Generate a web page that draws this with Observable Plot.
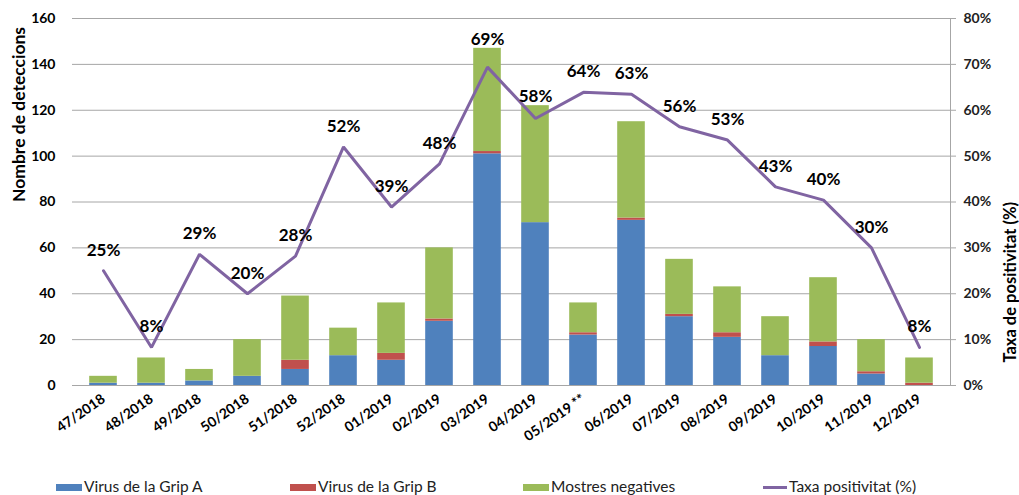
<!DOCTYPE html>
<html>
<head>
<meta charset="utf-8">
<script src="https://cdn.jsdelivr.net/npm/d3@7"></script>
<script src="https://cdn.jsdelivr.net/npm/@observablehq/plot@0.6"></script>
<style>
  html, body { margin: 0; padding: 0; background: #fff; }
  #wrap { width: 1019px; height: 495px; position: relative; font-family: Lato, "Open Sans", sans-serif; }
  #legend { position: absolute; left: 0; top: 476px; width: 1019px; height: 20px; font-size: 15.5px; color: #222; }
  .item { position: absolute; top: 0; height: 20px; line-height: 20px; white-space: nowrap; }
  .sw { display: inline-block; width: 26px; height: 7px; vertical-align: middle; margin-right: 2px; position: relative; top: -1px; }
  .ln { display: inline-block; width: 24px; height: 3px; vertical-align: middle; margin-right: 2px; position: relative; top: -1px; }
</style>
</head>
<body>
<div id="wrap">
  <div id="chart"></div>
  <div id="legend"></div>
</div>
<script>
// ---- data ----
const weeks = ["47/2018","48/2018","49/2018","50/2018","51/2018","52/2018","01/2019","02/2019","03/2019","04/2019","05/2019 **","06/2019","07/2019","08/2019","09/2019","10/2019","11/2019","12/2019"];
const gripA     = [1, 1, 2, 4, 7, 13, 11, 28, 101, 71, 22, 72, 30, 21, 13, 17, 5, 0];
const gripB     = [0, 0, 0, 0, 4, 0, 3, 1, 1, 0, 1, 1, 1, 2, 0, 2, 1, 1];
const negatives = [3, 11, 5, 16, 28, 12, 22, 31, 45, 51, 13, 42, 24, 20, 17, 28, 14, 11];
const rate      = [25, 8.3, 28.6, 20, 28.2, 52, 38.9, 48.3, 69.4, 58.2, 63.9, 63.5, 56.4, 53.5, 43.3, 40.4, 30, 8.3];
const rateLabels = ["25%","8%","29%","20%","28%","52%","39%","48%","69%","58%","64%","63%","56%","53%","43%","40%","30%","8%"];
const seriesNames = ["Virus de la Grip A", "Virus de la Grip B", "Mostres negatives"];
const lineName = "Taxa positivitat (%)";
const countTicks = [0, 20, 40, 60, 80, 100, 120, 140, 160];
const rateTicks = ["0%","10%","20%","30%","40%","50%","60%","70%","80%"];
const colors = ["#4F81BD", "#C0504D", "#9BBB59"];
const lineColor = "#8064A2";

// ---- derived tables ----
const seriesValues = [gripA, gripB, negatives];
const stacked = [];
weeks.forEach((w, i) => seriesNames.forEach((s, k) => stacked.push({week: w, series: s, value: seriesValues[k][i]})));
const rateScale = 160 / 80; // 80% on the right axis ↔ 160 on the left axis
const rateData = weeks.map((w, i) => {
  const total = gripA[i] + gripB[i] + negatives[i];
  const y = rate[i] * rateScale;
  return {week: w, y, label: rateLabels[i], labelY: Math.max(y + 9, total + 4)};
});

const chart = Plot.plot({
  width: 1019,
  height: 470,
  marginLeft: 72,
  marginRight: 69,
  marginTop: 18,
  marginBottom: 85,
  style: {fontFamily: "Lato, 'Open Sans', sans-serif", background: "#fff", color: "#000"},
  x: {domain: weeks, padding: 0, label: null},
  y: {domain: [0, 160], label: null},
  color: {domain: seriesNames, range: colors},
  marks: [
    Plot.gridY(countTicks, {stroke: "#a6a6a6", strokeOpacity: 1, strokeWidth: 1}),
    Plot.barY(stacked, {x: "week", y: "value", fill: "series", insetLeft: 10.2, insetRight: 10.2}),
    Plot.line(rateData, {x: "week", y: "y", stroke: lineColor, strokeWidth: 3, strokeLinejoin: "miter"}),
    Plot.text(rateData, {x: "week", y: "labelY", text: "label", fontWeight: "bold", fontSize: 17, fill: "#000"}),
    Plot.axisX({tickSize: 0, tickRotate: -35, tickPadding: 12, fontWeight: "bold", fontSize: 14, label: null, fill: "#000"}),
    Plot.axisY({ticks: countTicks, tickSize: 0, tickPadding: 17, fontWeight: "bold", fontSize: 14, label: null, fill: "#000"}),
    Plot.axisY({anchor: "right", ticks: countTicks, tickFormat: (d) => rateTicks[countTicks.indexOf(d)], tickSize: 5, tickPadding: 8, fontSize: 14, fontWeight: "bold", label: null, stroke: "#a6a6a6", fill: "#222"}),
    Plot.frame({anchor: "right", stroke: "#a6a6a6"}),
    Plot.text(["Nombre de deteccions"], {frameAnchor: "left", rotate: -90, dx: -53, fontWeight: "bold", fontSize: 17.5, fill: "#000"}),
    Plot.text(["Taxa de positivitat (%)"], {frameAnchor: "right", rotate: -90, dx: 60, fontWeight: "bold", fontSize: 16.5, fill: "#000"})
  ]
});
document.getElementById("chart").appendChild(chart);

// ---- legend ----
const legend = document.getElementById("legend");
const lefts = [56, 290, 523, 763];
seriesNames.forEach((s, k) => {
  const el = document.createElement("div");
  el.className = "item";
  el.style.left = lefts[k] + "px";
  el.innerHTML = `<span class="sw" style="background:${colors[k]}"></span>${s}`;
  legend.appendChild(el);
});
const li = document.createElement("div");
li.className = "item";
li.style.left = lefts[3] + "px";
li.innerHTML = `<span class="ln" style="background:${lineColor}"></span>${lineName}`;
legend.appendChild(li);
</script>
</body>
</html>
